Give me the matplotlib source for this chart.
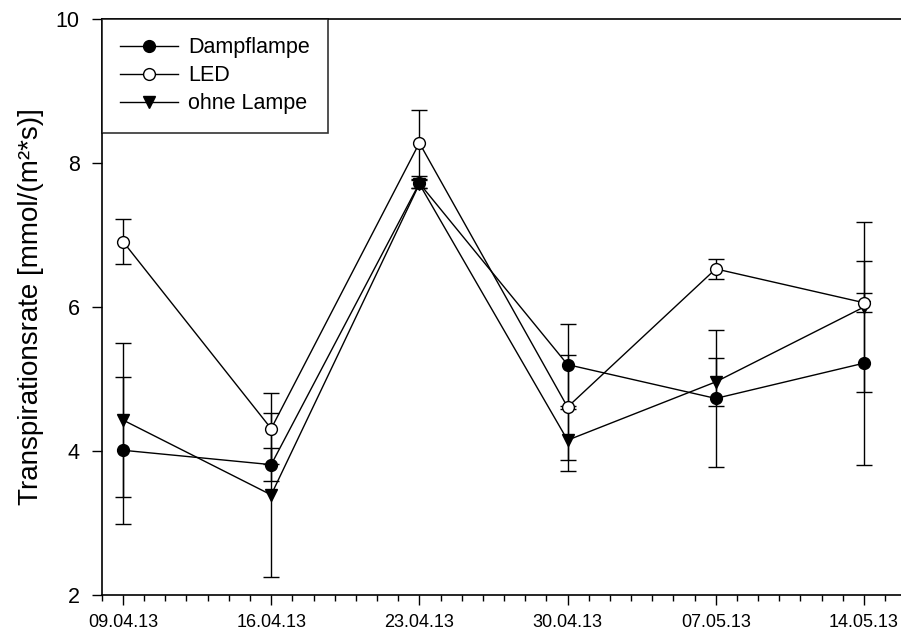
import matplotlib
matplotlib.use('Agg')
import matplotlib.pyplot as plt
import matplotlib.dates as mdates
import pandas as pd

plt.rcParams['font.family'] = ['Liberation Sans', 'DejaVu Sans']

# Messtage
dates = ['09.04.13', '16.04.13', '23.04.13', '30.04.13', '07.05.13', '14.05.13']

# Mittelwerte und Standardabweichungen
dampf = [4.01, 3.81, 7.72, 5.20, 4.73, 5.22]
dampf_err = [1.02, 0.23, 0.06, 0.57, 0.95, 1.42]

led = [6.91, 4.31, 8.28, 4.61, 6.53, 6.06]
led_err = [0.31, 0.49, 0.46, 0.73, 0.14, 0.13]

ohne = [4.43, 3.39, 7.71, 4.15, 4.96, 6.00]
ohne_err = [1.07, 1.14, 0.05, 0.43, 0.33, 1.18]

x = pd.to_datetime(dates, format='%d.%m.%y')

fig = plt.figure(figsize=(9.01, 6.39), dpi=100)
ax = fig.add_axes([0.113, 0.069, 0.887, 0.901])

common = dict(color='black', linewidth=1.0, capsize=6, elinewidth=1.0,
              capthick=1.0, markersize=8.5)
ax.errorbar(x, ohne, yerr=ohne_err, marker='v', mfc='black', mec='black',
            label='ohne Lampe', **common)
ax.errorbar(x, dampf, yerr=dampf_err, marker='o', mfc='black', mec='black',
            label='Dampflampe', **common)
ax.errorbar(x, led, yerr=led_err, marker='o', mfc='white', mec='black',
            label='LED', **common)

ax.set_ylim(2, 10)
ax.set_yticks([2, 4, 6, 8, 10])
ax.set_xlim(pd.Timestamp('2013-04-08'), pd.Timestamp('2013-05-15 18:00'))
ax.set_xticks(x)
ax.set_xticklabels(dates, fontsize=13)
ax.xaxis.set_minor_locator(mdates.DayLocator())

ax.spines['right'].set_visible(False)
for s in ['left', 'bottom', 'top']:
    ax.spines[s].set_linewidth(1.2)

ax.tick_params(axis='both', which='major', direction='out', length=7, width=1.0)
ax.tick_params(axis='y', labelsize=15.5, pad=9)
ax.tick_params(axis='x', pad=7)
ax.tick_params(axis='x', which='minor', direction='out', length=4, width=1.0)

ax.set_ylabel('Transpirationsrate [mmol/(m²*s)]', fontsize=20, labelpad=8)

handles, labels = ax.get_legend_handles_labels()
order = [1, 2, 0]
leg = ax.legend([handles[i][0] for i in order], [labels[i] for i in order],
                loc='upper left', borderaxespad=0, fancybox=False,
                edgecolor='black', fontsize=15.5, handlelength=2.7,
                borderpad=0.85, labelspacing=0.32, handletextpad=0.45)
leg.get_frame().set_linewidth(1.2)

fig.savefig('out.png', dpi=100)
